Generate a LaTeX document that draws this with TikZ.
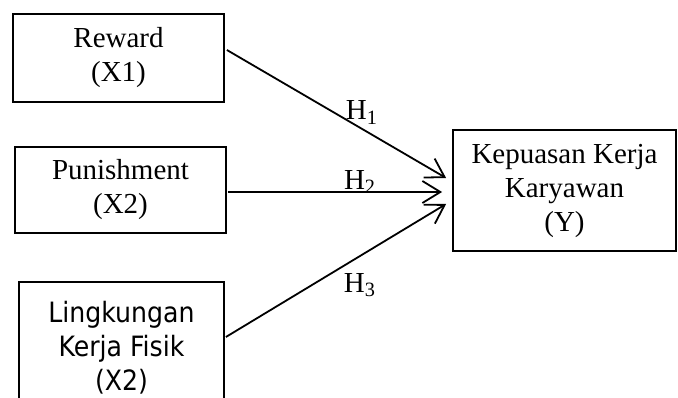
\documentclass[tikz,border=0pt]{standalone}
\usepackage{fontspec}
\setmainfont{Liberation Serif}
\newfontfamily\lkffont{DejaVu Sans Condensed}
\usetikzlibrary{arrows.meta}
\tikzset{
	varbox/.style={draw, line width=1.8pt, align=center, inner sep=0pt},
	hyp/.style={line width=1.8pt, -{Straight Barb[length=18pt,width=22pt,line width=1.8pt]}}
}

\begin{document}
\begin{tikzpicture}[x=1pt,y=-1pt,font=\fontsize{29}{34}\selectfont]
		\useasboundingbox (0,0) rectangle (678,398);
		\clip (0,0) rectangle (678,398);
		\node[varbox, minimum width=211pt, minimum height=88pt] (rew) at (118.5,58) {Reward\\(X1)};
		\node[varbox, minimum width=211pt, minimum height=86pt] (pun) at (120.5,190) {Punishment\\(X2)};
		\node[varbox, minimum width=205pt, minimum height=132pt, anchor=north, font=\lkffont\fontsize{28}{34}\selectfont] (lkf) at (121.5,281) {Lingkungan\\Kerja Fisik\\(X2)};
		\node[varbox, minimum width=223pt, minimum height=121pt] (kk) at (564.5,190.5) {Kepuasan Kerja\\Karyawan\\(Y)};
		\draw[hyp] ([shift={(2pt,8pt)}]rew.east) -- ([shift={(-6pt,12.5pt)}]kk.west) node[pos=0.615, yshift=16pt] (h1) {H\textsubscript{1}};
		\draw[hyp] ([shift={(1pt,-2pt)}]pun.east) -- ([shift={(-10pt,-1.5pt)}]kk.west) node[pos=0.616, yshift=10pt] (h2) {H\textsubscript{2}};
		\draw[hyp] ([shift={(1pt,-56pt)}]lkf.north east) -- ([shift={(-6pt,-13.5pt)}]kk.west) node[pos=0.608, yshift=-29pt] (h3) {H\textsubscript{3}};
\end{tikzpicture}
\end{document}
